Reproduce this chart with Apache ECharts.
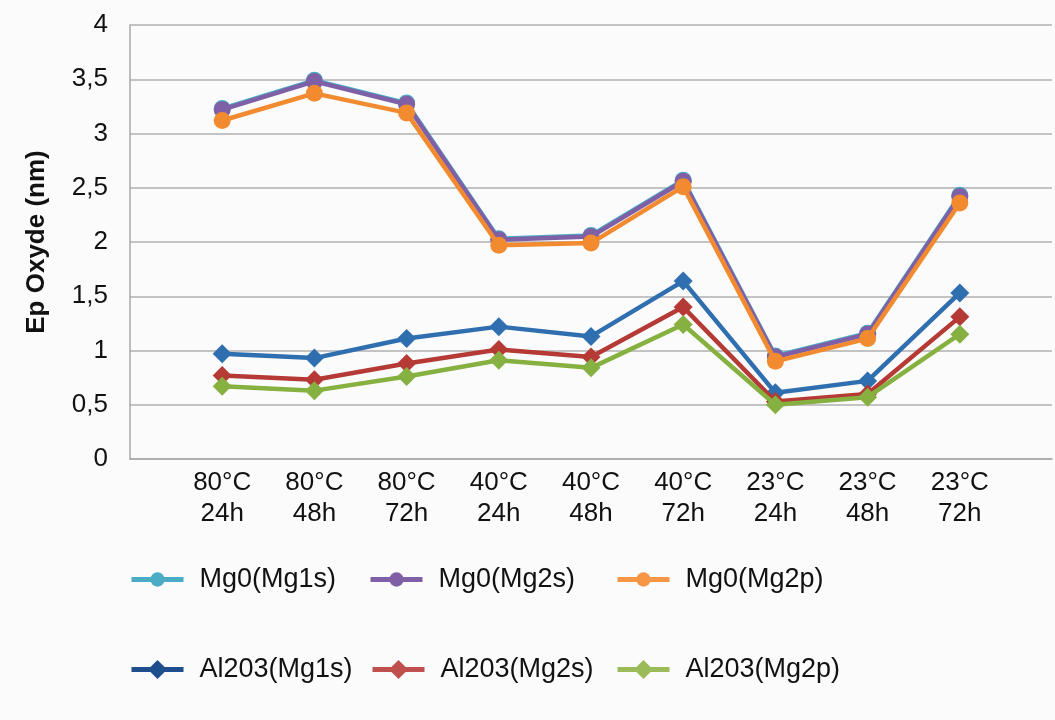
<!DOCTYPE html>
<html>
<head>
<meta charset="utf-8">
<script src="https://cdn.jsdelivr.net/npm/echarts@6/dist/echarts.min.js"></script>
<style>html,body{margin:0;padding:0;background:#fbfbfb;}#c{width:1055px;height:720px;}</style>
</head>
<body>
<div id="c"></div>
<script>
const categories = ['80°C\n24h', '80°C\n48h', '80°C\n72h', '40°C\n24h', '40°C\n48h', '40°C\n72h', '23°C\n24h', '23°C\n48h', '23°C\n72h'];
const mgoMg1s = [3.23, 3.49, 3.28, 2.03, 2.06, 2.57, 0.95, 1.16, 2.43];
const mgoMg2s = [3.22, 3.48, 3.27, 2.02, 2.05, 2.56, 0.94, 1.15, 2.42];
const mgoMg2p = [3.12, 3.37, 3.19, 1.97, 1.99, 2.51, 0.90, 1.11, 2.36];
const alMg1s = [0.97, 0.93, 1.11, 1.22, 1.13, 1.64, 0.61, 0.72, 1.53];
const alMg2s = [0.77, 0.73, 0.88, 1.01, 0.94, 1.40, 0.53, 0.60, 1.31];
const alMg2p = [0.67, 0.63, 0.76, 0.91, 0.84, 1.24, 0.50, 0.57, 1.15];
const seriesNames = ['Mg0(Mg1s)', 'Mg0(Mg2s)', 'Mg0(Mg2p)', 'Al203(Mg1s)', 'Al203(Mg2s)', 'Al203(Mg2p)'];

const FONT = '"Liberation Sans", Arial, sans-serif';
const pad = arr => [null].concat(arr, [null]);
const axisCats = [''].concat(categories, ['']);

const defs = [
  {data: mgoMg1s, color: '#4bacc6', legendColor: '#4bacc6', symbol: 'circle', size: 17, lh: 18},
  {data: mgoMg2s, color: '#7f5fa6', legendColor: '#7f5fa6', symbol: 'circle', size: 17, lh: 18},
  {data: mgoMg2p, color: '#f28a30', legendColor: '#f79646', symbol: 'circle', size: 17, lh: 18},
  {data: alMg1s, color: '#2f6fb0', legendColor: '#1f4e8c', symbol: 'diamond', size: 19, lh: 24},
  {data: alMg2s, color: '#b53a36', legendColor: '#c0504d', symbol: 'diamond', size: 19, lh: 24},
  {data: alMg2p, color: '#86b040', legendColor: '#9bbb59', symbol: 'diamond', size: 19, lh: 24}
];

const legendPos = [
  {left: 129, top: 566}, {left: 368, top: 566}, {left: 615, top: 566},
  {left: 129, top: 656}, {left: 370, top: 656}, {left: 615, top: 656}
];

const series = defs.map((d, i) => ({
  name: seriesNames[i],
  type: 'line',
  data: pad(d.data),
  symbol: d.symbol,
  symbolSize: d.size,
  showAllSymbol: true,
  connectNulls: false,
  itemStyle: {color: d.color},
  lineStyle: {color: d.color, width: 4.5},
  emphasis: {disabled: true},
  z: 2 + i
}));

const legends = defs.map((d, i) => ({
  data: [{name: seriesNames[i], itemStyle: {color: d.legendColor}, lineStyle: {color: d.legendColor, width: 5}}],
  left: legendPos[i].left,
  top: legendPos[i].top,
  padding: 0,
  itemWidth: 52,
  itemHeight: d.lh,
  selectedMode: false,
  textStyle: {fontSize: 27, fontFamily: FONT, color: '#111', padding: [0, 0, 0, 11]}
}));

const chart = echarts.init(document.getElementById('c'), null, {renderer: 'canvas'});
chart.setOption({
  backgroundColor: '#fbfbfb',
  animation: false,
  grid: {left: 130, right: 0, top: 25, bottom: 261, containLabel: false},
  legend: legends,
  xAxis: {
    type: 'category',
    data: axisCats,
    boundaryGap: false,
    axisLine: {lineStyle: {color: '#a8a8a8', width: 1.5}},
    axisTick: {show: false},
    splitLine: {show: false},
    axisLabel: {interval: 0, fontSize: 26, fontFamily: FONT, color: '#111', lineHeight: 31, margin: 8}
  },
  yAxis: {
    type: 'value',
    min: 0, max: 4, interval: 0.5,
    name: 'Ep Oxyde (nm)',
    nameLocation: 'middle',
    nameGap: 80,
    nameTextStyle: {fontSize: 26, fontWeight: 'bold', fontFamily: FONT, color: '#111'},
    axisLine: {show: true, lineStyle: {color: '#a8a8a8', width: 1.5}},
    axisTick: {show: false},
    splitLine: {lineStyle: {color: '#b0b0b0', width: 1.5}},
    axisLabel: {fontSize: 26, fontFamily: FONT, color: '#111', margin: 22,
      formatter: v => String(v).replace('.', ',')}
  },
  series: series
});
</script>
</body>
</html>
